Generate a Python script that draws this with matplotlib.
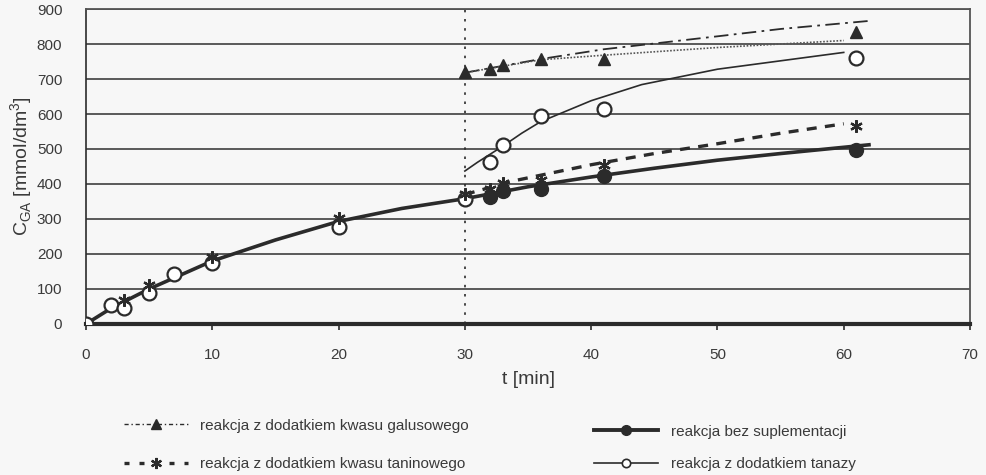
import matplotlib
matplotlib.use("Agg")
import matplotlib.pyplot as plt
from matplotlib.lines import Line2D

plt.rcParams["font.family"] = ["Liberation Sans", "DejaVu Sans"]

# punkty pomiarowe
t_gal = [30, 32, 33, 36, 41, 61]
c_gal = [719, 728, 740, 757, 757, 833]

t_tan = [3, 5, 10, 20, 30, 32, 33, 36, 41, 61]
c_tan = [68, 110, 190, 302, 372, 385, 402, 412, 455, 567]

t_bez = [32, 33, 36, 41, 61]
c_bez = [362, 380, 386, 424, 496]

t_taz = [0, 2, 3, 5, 7, 10, 20, 30, 32, 33, 36, 41, 61]
c_taz = [0, 54, 45, 89, 144, 173, 278, 357, 462, 510, 595, 614, 761]

# linie trendu
lt_gal = [30, 36, 41, 50, 55, 62]
lc_gal = [718, 757, 785, 822, 843, 866]
lt_gal2 = [30, 36, 41, 50, 60]
lc_gal2 = [718, 755, 768, 790, 810]

lt_tan = [30, 34, 40, 45, 50, 55, 60]
lc_tan = [370, 410, 455, 487, 515, 545, 572]

lt_bez = [0, 2, 5, 10, 15, 20, 25, 30, 35, 40, 45, 50, 55, 62]
lc_bez = [0, 45, 100, 180, 240, 293, 330, 358, 392, 420, 445, 468, 487, 512]

lt_taz = [30, 31, 32, 33, 34.5, 36, 40, 44, 50, 55, 60]
lc_taz = [437, 462, 485, 508, 545, 578, 638, 684, 728, 752, 776]

bg = "#f7f7f7"
ink = "#2b2b2b"
txt = "#3a3a3a"

fig = plt.figure(figsize=(9.86, 4.75), dpi=100, facecolor=bg)
ax = fig.add_axes([0.0872, 0.318, 0.8966, 0.663], facecolor=bg)

# siatka
for y in range(100, 901, 100):
    ax.axhline(y, color="#4d4d4d", lw=1.3, zorder=1)
ax.axvline(30, color=ink, lw=1.2, ls=(0, (1.5, 4)), zorder=2)

# linie
ax.plot(lt_gal, lc_gal, color=ink, lw=1.3, ls=(0, (8, 3, 1.5, 3)), zorder=3)
ax.plot(lt_gal2, lc_gal2, color="#555555", lw=1.2, ls=(0, (1, 1)), zorder=3)
ax.plot(lt_tan, lc_tan, color=ink, lw=2.4, ls=(0, (3, 2.5)), zorder=3)
ax.plot(lt_bez, lc_bez, color=ink, lw=2.6, zorder=3)
ax.plot(lt_taz, lc_taz, color=ink, lw=1.2, zorder=3)

# punkty
ax.plot(t_taz, c_taz, ls="none", marker="o", ms=10, mfc="white", mec=ink, mew=1.6, zorder=4)
ax.plot(t_bez, c_bez, ls="none", marker="o", ms=10, mfc=ink, mec=ink, zorder=5)
ax.plot(t_tan, c_tan, ls="none", marker=(6, 2, 0), ms=9, mec=ink, mew=1.6, zorder=5)
ax.plot(t_gal, c_gal, ls="none", marker="^", ms=9, mfc=ink, mec=ink, zorder=5)

ax.set_xlim(0, 70)
ax.set_ylim(0, 900)
ax.set_xticks(range(0, 71, 10))
ax.set_yticks(range(0, 901, 100))

for s in ["top", "right"]:
    ax.spines[s].set_color("#555555")
    ax.spines[s].set_linewidth(1.3)
ax.spines["left"].set_color(ink)
ax.spines["left"].set_linewidth(1.2)
ax.spines["bottom"].set_color(ink)
ax.spines["bottom"].set_linewidth(3)

ax.tick_params(axis="x", length=4, width=1.2, color=ink, pad=13, labelsize=11, labelcolor=txt)
ax.tick_params(axis="y", length=0, pad=17, labelsize=11, labelcolor=txt)

ax.set_xlabel("t [min]", fontsize=14, color=txt, labelpad=7)
ax.set_ylabel(r"C$_{\mathregular{GA}}$ [mmol/dm$^{\mathregular{3}}$]", fontsize=14, color=txt)
ax.yaxis.set_label_coords(-0.058, 0.5)

# legenda
h_gal = Line2D([], [], color=ink, lw=1.0, ls=(0, (3, 2, 1, 2)), marker="^", ms=7, mfc=ink, mec=ink)
h_tan = Line2D([], [], color=ink, lw=2.4, ls=(0, (1.5, 3)), marker=(6, 2, 0), ms=8, mec=ink, mew=1.6)
h_bez = Line2D([], [], color=ink, lw=2.8, marker="o", ms=7, mfc=ink, mec=ink)
h_taz = Line2D([], [], color=ink, lw=1.2, marker="o", ms=6, mfc="white", mec=ink, mew=1.2)

leg_font = {"family": ["Liberation Sans Narrow", "Liberation Sans"], "size": 11}
fig.legend([h_gal, h_tan],
           ["reakcja z dodatkiem kwasu galusowego", "reakcja z dodatkiem kwasu taninowego"],
           loc="upper left", bbox_to_anchor=(0.118, 1 - 411 / 475),
           frameon=False, prop=leg_font, handlelength=4.2, handletextpad=0.8,
           labelspacing=1.6, borderpad=0, labelcolor=txt)
fig.legend([h_bez, h_taz],
           ["reakcja bez suplementacji", "reakcja z dodatkiem tanazy"],
           loc="upper left", bbox_to_anchor=(0.595, 1 - 417 / 475),
           frameon=False, prop=leg_font, handlelength=4.2, handletextpad=0.8,
           labelspacing=1.2, borderpad=0, labelcolor=txt)

fig.savefig("out.png", dpi=100, facecolor=bg)
